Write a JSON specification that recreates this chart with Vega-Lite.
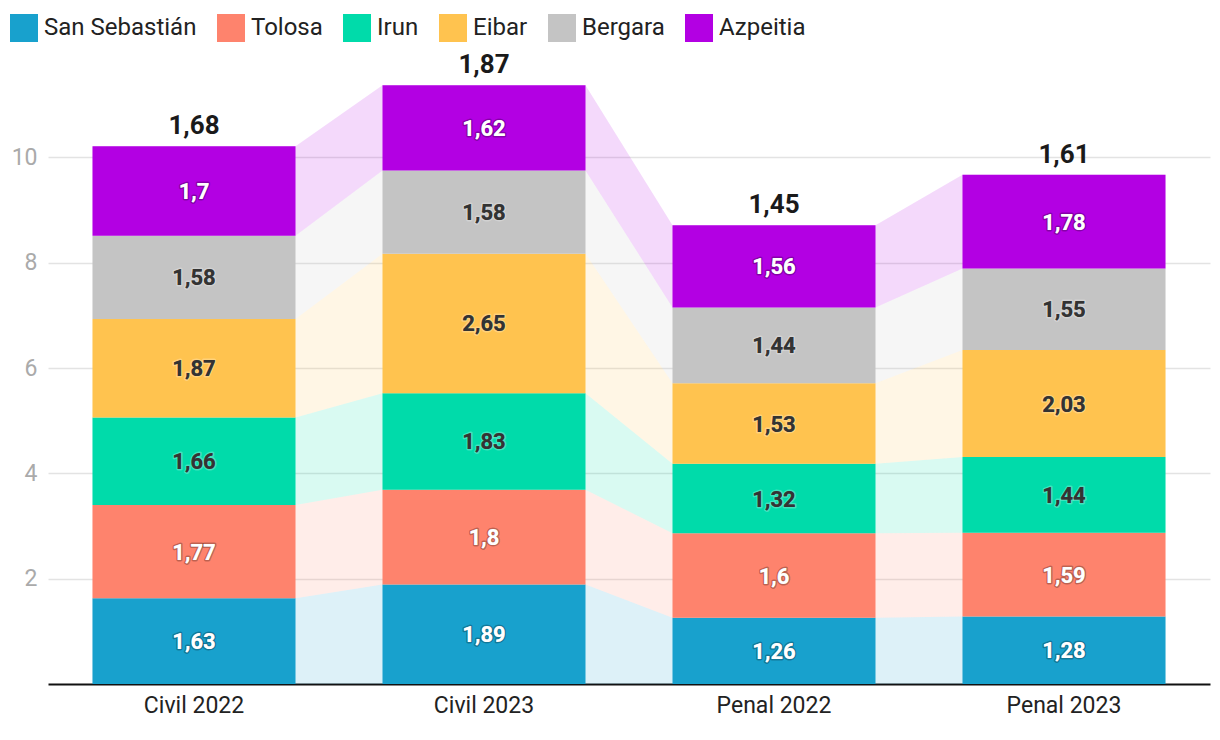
{
  "$schema": "https://vega.github.io/schema/vega-lite/v6.json",
  "width": 1162,
  "height": 632,
  "autosize": {"type": "none"},
  "padding": {"left": 48, "top": 52, "right": 10, "bottom": 56},
  "config": {
    "font": "Roboto",
    "locale": {"number": {"decimal": ",", "thousands": ".", "grouping": [3], "currency": ["", " €"]}},
    "view": {"stroke": null}
  },
  "datasets": {
    "main": [
      {"cat": "Civil 2022", "city": "San Sebastián", "value": 1.63},
      {"cat": "Civil 2022", "city": "Tolosa", "value": 1.77},
      {"cat": "Civil 2022", "city": "Irun", "value": 1.66},
      {"cat": "Civil 2022", "city": "Eibar", "value": 1.87},
      {"cat": "Civil 2022", "city": "Bergara", "value": 1.58},
      {"cat": "Civil 2022", "city": "Azpeitia", "value": 1.7},
      {"cat": "Civil 2023", "city": "San Sebastián", "value": 1.89},
      {"cat": "Civil 2023", "city": "Tolosa", "value": 1.8},
      {"cat": "Civil 2023", "city": "Irun", "value": 1.83},
      {"cat": "Civil 2023", "city": "Eibar", "value": 2.65},
      {"cat": "Civil 2023", "city": "Bergara", "value": 1.58},
      {"cat": "Civil 2023", "city": "Azpeitia", "value": 1.62},
      {"cat": "Penal 2022", "city": "San Sebastián", "value": 1.26},
      {"cat": "Penal 2022", "city": "Tolosa", "value": 1.6},
      {"cat": "Penal 2022", "city": "Irun", "value": 1.32},
      {"cat": "Penal 2022", "city": "Eibar", "value": 1.53},
      {"cat": "Penal 2022", "city": "Bergara", "value": 1.44},
      {"cat": "Penal 2022", "city": "Azpeitia", "value": 1.56},
      {"cat": "Penal 2023", "city": "San Sebastián", "value": 1.28},
      {"cat": "Penal 2023", "city": "Tolosa", "value": 1.59},
      {"cat": "Penal 2023", "city": "Irun", "value": 1.44},
      {"cat": "Penal 2023", "city": "Eibar", "value": 2.03},
      {"cat": "Penal 2023", "city": "Bergara", "value": 1.55},
      {"cat": "Penal 2023", "city": "Azpeitia", "value": 1.78}
    ],
    "totals": [
      {"cat": "Civil 2022", "media": 1.68},
      {"cat": "Civil 2023", "media": 1.87},
      {"cat": "Penal 2022", "media": 1.45},
      {"cat": "Penal 2023", "media": 1.61}
    ]
  },
  "data": {"name": "main"},
  "transform": [
    {"calculate": "indexof(['San Sebastián','Tolosa','Irun','Eibar','Bergara','Azpeitia'], datum.city)", "as": "k"},
    {"stack": "value", "groupby": ["cat"], "sort": [{"field": "k", "order": "ascending"}], "as": ["y0", "y1"]},
    {"calculate": "(datum.y0 + datum.y1) / 2", "as": "mid"}
  ],
  "encoding": {
    "x": {
      "field": "cat", "type": "nominal", "sort": null,
      "scale": {"paddingInner": 0.3, "paddingOuter": 0.1535},
      "axis": {"title": null, "labelAngle": 0, "labelFontSize": 23, "labelColor": "#222", "ticks": false,
               "domainColor": "#111", "domainWidth": 2, "labelPadding": 10, "grid": false}
    }
  },
  "layer": [
    {
      "transform": [{"fold": ["y0", "y1"], "as": ["side", "tmp"]}],
      "mark": {"type": "area", "fillOpacity": 0.15},
      "encoding": {
        "x": {"field": "cat", "type": "nominal", "sort": null, "bandPosition": 0},
        "xOffset": {"field": "side", "type": "nominal", "scale": {"type": "point", "domain": ["y0", "y1"], "range": [0, 203], "padding": 0}},
        "y": {"field": "y0", "type": "quantitative",
              "scale": {"domain": [0, 12], "nice": false},
              "axis": {"title": null, "values": [2, 4, 6, 8, 10], "format": "d", "labelFontSize": 23, "labelColor": "#aaaaaa",
                       "ticks": false, "domain": false, "gridColor": "#e3e3e3", "gridWidth": 1.3, "labelPadding": 11}},
        "y2": {"field": "y1"},
        "fill": {"field": "city", "type": "nominal", "legend": null,
                  "scale": {"domain": ["Azpeitia", "Bergara", "Eibar", "Irun", "Tolosa", "San Sebastián"],
                            "range": ["#b300e3", "#c4c4c4", "#ffc34f", "#00dbaa", "#fe836d", "#18a1cd"]}},
        "order": [{"field": "cat"}, {"field": "side"}]
      }
    },
    {
      "mark": {"type": "bar", "width": 203},
      "encoding": {
        "y": {"field": "y0", "type": "quantitative"},
        "y2": {"field": "y1"},
        "color": {"field": "city", "type": "nominal",
                  "scale": {"domain": ["San Sebastián", "Tolosa", "Irun", "Eibar", "Bergara", "Azpeitia"],
                            "range": ["#18a1cd", "#fe836d", "#00dbaa", "#ffc34f", "#c4c4c4", "#b300e3"]},
                  "legend": {"orient": "none", "legendX": -38, "legendY": -38, "direction": "horizontal", "columns": 6,
                             "symbolType": "square", "symbolSize": 784, "symbolStrokeWidth": 0, "symbolOpacity": 1,
                             "labelFontSize": 24, "labelColor": "#222", "columnPadding": 20, "labelOffset": 6,
                             "padding": 0, "title": null, "labelLimit": 300}}
      }
    },
    {
      "mark": {"type": "text", "fontSize": 22, "fontWeight": "bold", "baseline": "middle", "dy": 1, "strokeWidth": 3, "strokeOpacity": 0.25, "strokeJoin": "round"},
      "encoding": {
        "y": {"field": "mid", "type": "quantitative"},
        "text": {"field": "value", "type": "quantitative", "format": ".2~f"},
        "stroke": {"condition": {"test": "indexof(['Irun','Eibar','Bergara'], datum.city) >= 0", "value": "#ffffff"}, "value": "#000000"},
        "color": {"condition": {"test": "indexof(['Irun','Eibar','Bergara'], datum.city) >= 0", "value": "#333333"}, "value": "#ffffff"}
      }
    },
    {
      "mark": {"type": "text", "fontSize": 22, "fontWeight": "bold", "baseline": "middle", "dy": 1},
      "encoding": {
        "y": {"field": "mid", "type": "quantitative"},
        "text": {"field": "value", "type": "quantitative", "format": ".2~f"},
        "color": {"condition": {"test": "indexof(['Irun','Eibar','Bergara'], datum.city) >= 0", "value": "#333333"}, "value": "#ffffff"}
      }
    },
    {
      "transform": [
        {"aggregate": [{"op": "sum", "field": "value", "as": "total"}], "groupby": ["cat"]},
        {"lookup": "cat", "from": {"data": {"name": "totals"}, "key": "cat", "fields": ["media"]}}
      ],
      "mark": {"type": "text", "fontSize": 26, "fontWeight": "bold", "baseline": "alphabetic", "dy": -12, "color": "#1a1a1a"},
      "encoding": {
        "y": {"field": "total", "type": "quantitative"},
        "text": {"field": "media", "type": "quantitative", "format": ".2~f"}
      }
    }
  ]
}
